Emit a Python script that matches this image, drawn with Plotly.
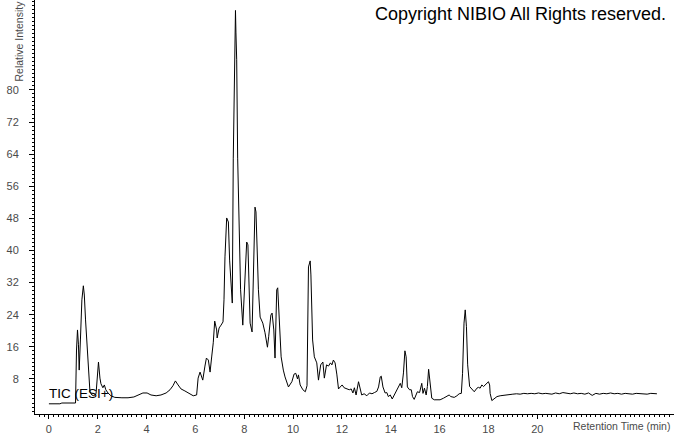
import plotly.graph_objects as go

# Retention time (min)
time_min = [
    0.00, 0.45, 0.53, 0.86, 1.09, 1.13, 1.17, 1.21, 1.24, 1.29, 1.35, 1.41, 1.45, 1.50, 1.56, 1.62,
    1.68, 1.76, 1.84, 1.93, 1.99, 2.03, 2.09, 2.13, 2.21, 2.27, 2.33, 2.42, 2.54, 2.70, 2.99, 3.24,
    3.48, 3.69, 3.85, 4.02, 4.18, 4.39, 4.59, 4.80, 4.96, 5.08, 5.18, 5.29, 5.41, 5.57, 5.74, 5.91,
    6.05, 6.11, 6.19, 6.30, 6.39, 6.45, 6.53, 6.60, 6.67, 6.73, 6.79, 6.87, 6.89, 6.97, 7.05, 7.13,
    7.17, 7.21, 7.28, 7.35, 7.40, 7.46, 7.51, 7.55, 7.59, 7.64, 7.66, 7.69, 7.73, 7.79, 7.85, 7.94,
    8.01, 8.10, 8.15, 8.20, 8.24, 8.32, 8.38, 8.44, 8.48, 8.52, 8.58, 8.65, 8.76, 8.85, 8.95, 9.00,
    9.09, 9.14, 9.21, 9.26, 9.33, 9.37, 9.44, 9.51, 9.60, 9.67, 9.81, 9.95, 10.04, 10.11, 10.18, 10.22,
    10.29, 10.40, 10.50, 10.57, 10.63, 10.70, 10.73, 10.80, 10.87, 10.97, 11.04, 11.13, 11.22, 11.28,
    11.37, 11.45, 11.53, 11.59, 11.65, 11.72, 11.79, 11.86, 11.93, 12.01, 12.09, 12.20, 12.30, 12.38,
    12.45, 12.51, 12.58, 12.68, 12.74, 12.81, 12.91, 13.02, 13.13, 13.23, 13.33, 13.43, 13.50, 13.57,
    13.61, 13.68, 13.77, 13.84, 13.90, 13.98, 14.06, 14.14, 14.22, 14.32, 14.39, 14.45, 14.52, 14.58,
    14.63, 14.68, 14.77, 14.84, 14.89, 14.96, 15.03, 15.09, 15.18, 15.23, 15.27, 15.32, 15.38, 15.45,
    15.50, 15.55, 15.59, 15.64, 15.68, 15.78, 15.91, 16.02, 16.16, 16.30, 16.39, 16.46, 16.60, 16.71,
    16.80, 16.89, 16.94, 17.00, 17.05, 17.10, 17.15, 17.23, 17.32, 17.42, 17.53, 17.59, 17.66, 17.73,
    17.80, 17.87, 17.94, 18.00, 18.05, 18.07, 18.14, 18.21, 18.35, 18.48, 18.76, 19.00, 19.15, 19.30,
    19.45, 19.60, 19.75, 19.90, 20.05, 20.20, 20.35, 20.60, 20.75, 20.90, 21.05, 21.20, 21.35, 21.50,
    21.65, 21.80, 21.95, 22.10, 22.25, 22.40, 22.55, 22.70, 22.85, 23.00, 23.15, 23.30, 23.45, 23.60,
    23.75, 23.90, 24.05, 24.20, 24.35, 24.50, 24.65, 24.80, 24.90,
]

# Relative intensity (%)
intensity = [
    1.8, 1.8, 2.0, 1.9, 2.0, 15.2, 20.2, 16.5, 10.2, 17.7, 27.7, 31.2, 28.9, 22.7, 16.5, 10.2,
    4.8, 4.0, 3.8, 4.3, 9.0, 12.2, 8.2, 6.8, 5.8, 6.5, 5.3, 4.5, 3.8, 3.4, 3.3, 3.3,
    3.5, 4.0, 4.5, 4.5, 4.0, 3.8, 4.0, 4.5, 5.3, 6.3, 7.5, 6.5, 5.5, 5.0, 4.5, 3.8,
    4.0, 8.2, 9.7, 7.7, 11.2, 13.2, 12.7, 9.7, 13.7, 17.0, 22.4, 20.2, 18.2, 20.7, 21.4, 22.2,
    27.7, 38.4, 48.1, 47.1, 37.6, 30.2, 26.9, 63.0, 87.5, 99.8, 94.2, 87.5, 63.0, 45.1, 30.2, 21.4,
    30.2, 42.1, 41.4, 30.2, 21.9, 19.7, 32.7, 50.8, 49.6, 40.1, 30.2, 23.4, 21.9, 19.5, 15.9, 18.5,
    23.9, 24.4, 20.2, 13.2, 30.2, 30.7, 20.2, 13.5, 10.2, 8.5, 6.0, 7.3, 9.2, 9.4, 8.0, 9.0,
    6.5, 5.3, 4.8, 6.3, 35.9, 37.4, 33.9, 17.7, 13.5, 12.0, 7.7, 11.5, 12.2, 8.2,
    11.5, 11.2, 12.0, 11.5, 12.7, 12.0, 9.2, 5.5, 6.0, 6.5, 5.8, 5.5, 5.3, 5.5,
    4.5, 5.8, 4.0, 7.3, 5.8, 4.0, 4.3, 3.8, 4.5, 4.3, 4.6, 4.9, 6.0, 8.5,
    8.7, 6.0, 4.5, 4.6, 3.6, 4.0, 3.0, 4.0, 4.9, 6.1, 6.9, 5.8, 9.5, 15.0,
    13.5, 6.0, 5.3, 5.3, 3.6, 2.9, 4.0, 4.8, 4.6, 6.1, 6.9, 4.4, 5.7, 4.0,
    6.1, 10.4, 8.6, 5.3, 3.2, 2.8, 2.9, 2.8, 3.2, 3.6, 4.0, 3.6, 3.4, 3.8,
    4.3, 4.4, 9.4, 21.9, 25.2, 21.0, 11.5, 6.1, 5.5, 4.8, 5.7, 5.9, 5.7, 6.5,
    6.1, 6.5, 6.9, 7.3, 6.5, 4.4, 2.6, 2.9, 3.6, 3.8, 4.1, 4.2, 4.3, 4.2,
    4.4, 4.3, 4.4, 4.3, 4.5, 4.3, 4.4, 4.2, 4.5, 4.3, 4.6, 4.4, 4.3, 4.5,
    4.3, 4.4, 4.2, 4.5, 3.9, 4.4, 4.2, 4.4, 4.3, 4.5, 4.3, 4.4, 4.2, 4.4,
    4.3, 4.2, 4.4, 4.3, 4.3, 4.2, 4.4, 4.3, 4.3,
]

x_tick_vals = [0, 2, 4, 6, 8, 10, 12, 14, 16, 18, 20]
y_tick_vals = [8, 16, 24, 32, 40, 48, 56, 64, 72, 80]

FONT = "Liberation Sans, Arial, sans-serif"
GREY = "#4a4a4a"

fig = go.Figure()
fig.add_trace(go.Scatter(
    x=time_min, y=intensity, mode="lines",
    line=dict(color="black", width=1),
    hoverinfo="skip", showlegend=False,
))

fig.update_layout(
    width=674, height=434,
    margin=dict(l=35, r=0, t=0, b=20, pad=0),
    paper_bgcolor="white", plot_bgcolor="white",
    font=dict(family=FONT, size=11, color=GREY),
    xaxis=dict(
        range=[-0.57, 25.6], showgrid=False, zeroline=False, automargin=False,
        showline=True, linecolor="black", linewidth=1,
        tickmode="array", tickvals=x_tick_vals,
        ticks="outside", ticklen=4, tickcolor="black", tickwidth=1,
        tickfont=dict(family=FONT, size=11, color=GREY),
        ticklabelstandoff=1,
        minor=dict(ticks="outside", ticklen=2, tickcolor="black", dtick=0.2, tick0=0, showgrid=False),
    ),
    yaxis=dict(
        range=[-0.74, 102.4], showgrid=False, zeroline=False, automargin=False,
        showline=True, linecolor="black", linewidth=1,
        tickmode="array", tickvals=y_tick_vals,
        ticks="outside", ticklen=5, tickcolor="black", tickwidth=1,
        tickfont=dict(family=FONT, size=11, color=GREY),
        ticklabelstandoff=8,
        minor=dict(ticks="outside", ticklen=2, tickcolor="black", dtick=1, tick0=0, showgrid=False),
    ),
)

fig.add_annotation(
    text="Copyright NIBIO All Rights reserved.",
    xref="paper", yref="paper", x=1.0, y=1.0, xanchor="right", yanchor="top",
    xshift=-6, yshift=-2,
    showarrow=False, font=dict(family=FONT, size=18, color="black"),
)
fig.add_annotation(
    text="TIC (ESI+)",
    xref="paper", yref="paper", x=(47 - 35) / 639, y=(414 - 393) / 414,
    xanchor="left", yanchor="middle",
    showarrow=False, font=dict(family=FONT, size=13.5, color="black"),
)
fig.add_annotation(
    text="Relative Intensity",
    xref="paper", yref="paper", x=(18 - 35) / 639, y=1.0,
    xanchor="center", yanchor="top", textangle=-90, yshift=1,
    showarrow=False, font=dict(family=FONT, size=10.5, color=GREY),
)
fig.add_annotation(
    text="Retention Time (min)",
    xref="paper", yref="paper", x=1.0, y=0, xanchor="right", yanchor="top",
    xshift=-2, yshift=-4,
    showarrow=False, font=dict(family=FONT, size=10.5, color=GREY),
)

fig.write_html(
    "out.html",
    config={"displayModeBar": False},
    post_script="document.body.style.margin='0';document.body.style.padding='0';",
)
